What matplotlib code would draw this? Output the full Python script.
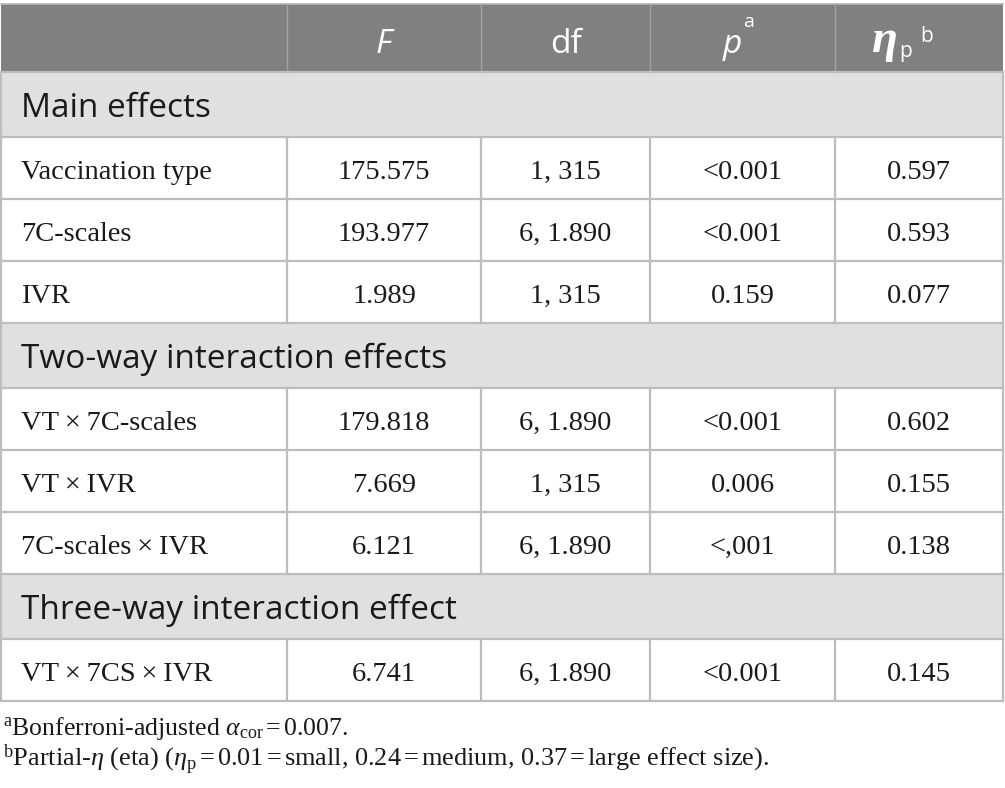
import matplotlib
matplotlib.use("Agg")
import matplotlib.pyplot as plt
from matplotlib.patches import Rectangle

plt.rcParams['mathtext.fontset'] = 'custom'
plt.rcParams['mathtext.rm'] = 'Liberation Serif'
plt.rcParams['mathtext.it'] = 'Liberation Serif:italic'
plt.rcParams['mathtext.bf'] = 'Liberation Serif:bold'

# ---- data ----
sections = ["Main effects", "Two-way interaction effects", "Three-way interaction effect"]
section_rows = [
    ["Vaccination type", "7C-scales", "IVR"],
    ["VT\u2009×\u20097C-scales", "VT\u2009×\u2009IVR", "7C-scales\u2009×\u2009IVR"],
    ["VT\u2009×\u20097CS\u2009×\u2009IVR"],
]
F_vals = ["175.575", "193.977", "1.989", "179.818", "7.669", "6.121", "6.741"]
df_vals = ["1, 315", "6, 1.890", "1, 315", "6, 1.890", "1, 315", "6, 1.890", "6, 1.890"]
p_vals = ["<0.001", "<0.001", "0.159", "<0.001", "0.006", "<,001", "<0.001"]
eta_vals = ["0.597", "0.593", "0.077", "0.602", "0.155", "0.138", "0.145"]
footnotes = [
    r"$^{\mathrm{a}}$Bonferroni-adjusted $\alpha_{\mathrm{cor}}\,$=$\,$0.007.",
    r"$^{\mathrm{b}}$Partial-$\eta$ (eta) ($\eta_{\mathrm{p}}\,$=$\,$0.01$\,$=$\,$small, 0.24$\,$=$\,$medium, 0.37$\,$=$\,$large effect size).",
]

# ---- layout ----
W, H = 1005, 788
fig = plt.figure(figsize=(W / 100, H / 100), dpi=100)
ax = fig.add_axes([0, 0, 1, 1])
ax.set_xlim(0, W)
ax.set_ylim(H, 0)
ax.axis('off')

col_x = [1, 287, 481, 650, 835, 1003]
header_top, header_bot = 4, 72
sec_h = 65
row_h = 62
HEADER_BG = "#7f807f"
SEC_BG = "#e1dfe0"
LINE = "#bdbdbd"
TXT = "#1a1a1a"
SERIF = "Liberation Serif"
SANS = "Open Sans"
body_fs = 20.5
sec_fs = 24
head_fs = 24

# header
ax.add_patch(Rectangle((col_x[0], header_top), col_x[-1] - col_x[0], header_bot - header_top,
                       facecolor=HEADER_BG, edgecolor='none', zorder=1))
ax.plot([col_x[0], col_x[-1]], [header_top, header_top], color="#b5b5b5", lw=1.2, zorder=2)
for x in col_x[1:-1]:
    ax.plot([x, x], [header_top, header_bot], color="#a3a3a3", lw=1, zorder=2)

head_base = 53
cxs = [(col_x[i] + col_x[i + 1]) / 2 for i in range(len(col_x) - 1)]


def htext(x, y, s, **kw):
    ax.text(x, y, s, va='baseline', ha='left', color='white', zorder=3, **kw)


ax.text(cxs[1], head_base, "F", fontfamily=SANS, fontstyle='italic', fontsize=head_fs,
        color='white', va='baseline', ha='center', zorder=3)
ax.text(cxs[2], head_base, "df", fontfamily=SANS, fontsize=head_fs,
        color='white', va='baseline', ha='center', zorder=3)
# p^a
htext(cxs[3] - 20, head_base, "p", fontfamily=SANS, fontstyle='italic', fontsize=head_fs)
htext(cxs[3] + 1, head_base - 26, "a", fontfamily=SANS, fontsize=14)
# eta_p^b
htext(cxs[4] - 48, head_base - 1, "\u03b7", fontfamily=SERIF, fontstyle='italic',
      fontweight='bold', fontsize=34)
htext(cxs[4] - 20, head_base + 4, "p", fontfamily=SANS, fontsize=15)
htext(cxs[4] + 1, head_base - 11, "b", fontfamily=SANS, fontsize=15)

# body
y = header_bot
ri = 0
for sec, rows in zip(sections, section_rows):
    ax.add_patch(Rectangle((col_x[0], y), col_x[-1] - col_x[0], sec_h,
                           facecolor=SEC_BG, edgecolor='none', zorder=1))
    ax.plot([col_x[0], col_x[-1]], [y, y], color=LINE, lw=1.6, zorder=2)
    ax.plot([col_x[0], col_x[0]], [y, y + sec_h], color=LINE, lw=1.6, zorder=2)
    ax.plot([col_x[-1], col_x[-1]], [y, y + sec_h], color=LINE, lw=1.6, zorder=2)
    ax.text(col_x[0] + 20, y + 45, sec, fontfamily=SANS, fontsize=sec_fs,
            color=TXT, va='baseline', ha='left', zorder=3)
    y += sec_h
    for lab in rows:
        ax.plot([col_x[0], col_x[-1]], [y, y], color=LINE, lw=1.6, zorder=2)
        for x in col_x:
            ax.plot([x, x], [y, y + row_h], color=LINE, lw=1.6, zorder=2)
        ty = y + 42
        ax.text(col_x[0] + 20, ty, lab, fontfamily=SERIF, fontsize=body_fs, color=TXT,
                va='baseline', ha='left', zorder=3)
        for ci, vals in enumerate([F_vals, df_vals, p_vals, eta_vals]):
            ax.text(cxs[ci + 1], ty, vals[ri], fontfamily=SERIF, fontsize=body_fs, color=TXT,
                    va='baseline', ha='center', zorder=3)
        y += row_h
        ri += 1
ax.plot([col_x[0], col_x[-1]], [y, y], color=LINE, lw=1.6, zorder=2)

# footnotes
ax.text(3, 735, footnotes[0], fontfamily=SERIF, fontsize=18.5, color=TXT, va='baseline', ha='left')
ax.text(3, 766, footnotes[1], fontfamily=SERIF, fontsize=18.9, color=TXT, va='baseline', ha='left')

fig.savefig("out.png", dpi=100, facecolor='white')
